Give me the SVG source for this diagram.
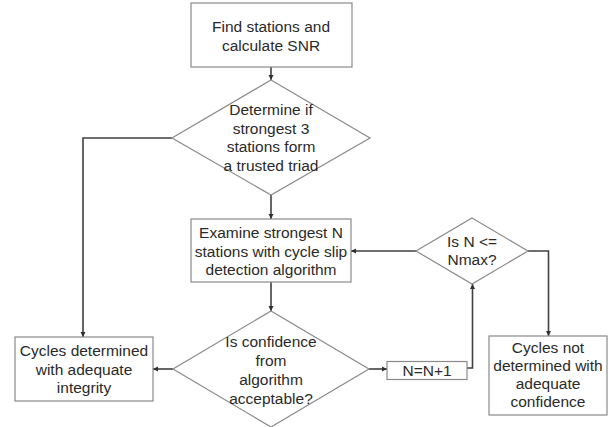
<svg xmlns="http://www.w3.org/2000/svg" width="611" height="427" viewBox="0 0 611 427">
<style>
.n{fill:#fff;stroke:#8a8a8a;stroke-width:1.2}
.t{font-family:"Liberation Sans",Arial,sans-serif;font-size:15.5px;fill:#2a2a2a;text-anchor:middle}
.c{fill:none;stroke:#404040;stroke-width:1.6;marker-end:url(#a)}
.l{fill:none;stroke:#404040;stroke-width:1.6}
</style>
<defs>
<marker id="a" markerWidth="6" markerHeight="6" refX="5" refY="3" orient="auto" markerUnits="userSpaceOnUse">
<path d="M0,0.5 L5,3 L0,5.5 Z" fill="#303030"/>
</marker>
</defs>
<rect width="611" height="427" fill="#fff"/>
<g id="connectors">
<path class="c" d="M271,67 V80"/>
<path class="c" d="M172,138 H83 V337"/>
<path class="c" d="M271,195 V219"/>
<path class="c" d="M271,282 V311"/>
<path class="c" d="M173,369 H153"/>
<path class="c" d="M369,369 H387"/>
<path class="c" d="M467,368 H472.5 V284"/>
<path class="c" d="M416,251 H351"/>
<path class="c" d="M528,251 H548.5 V336"/>
</g>
<g id="find">
<rect class="n" x="191" y="3" width="161" height="64"/>
<text class="t" x="271" y="32">Find stations and</text>
<text class="t" x="271" y="51">calculate SNR</text>
</g>
<g id="triad">
<polygon class="n" points="271,80 370,138 271,195 172,138"/>
<text class="t" x="271" y="114.5">Determine if</text>
<text class="t" x="271" y="133.5">strongest 3</text>
<text class="t" x="271" y="152">stations form</text>
<text class="t" x="271" y="171">a trusted triad</text>
</g>
<g id="examine">
<rect class="n" x="191" y="219" width="160" height="63"/>
<text class="t" x="271" y="238">Examine strongest N</text>
<text class="t" x="271" y="256.5">stations with cycle slip</text>
<text class="t" x="271" y="275">detection algorithm</text>
</g>
<g id="confidence">
<polygon class="n" points="271,311 369,369 271,427 173,369"/>
<text class="t" x="271" y="346.5">Is confidence</text>
<text class="t" x="271" y="365.5">from</text>
<text class="t" x="271" y="384.5">algorithm</text>
<text class="t" x="271" y="403.5">acceptable?</text>
</g>
<g id="determined">
<rect class="n" x="15" y="337" width="138" height="64"/>
<text class="t" x="84" y="356">Cycles determined</text>
<text class="t" x="84" y="374.5">with adequate</text>
<text class="t" x="84" y="393">integrity</text>
</g>
<g id="increment">
<rect class="n" x="387" y="361.5" width="80" height="18"/>
<text class="t" x="427" y="375.5">N=N+1</text>
</g>
<g id="nmax">
<polygon class="n" points="472,218 528,251 472,284 416,251"/>
<text class="t" x="472" y="246.5">Is N &lt;=</text>
<text class="t" x="472" y="265">Nmax?</text>
</g>
<g id="notdetermined">
<rect class="n" x="489" y="336" width="118" height="79"/>
<text class="t" x="548" y="353">Cycles not</text>
<text class="t" x="548" y="371">determined with</text>
<text class="t" x="548" y="389">adequate</text>
<text class="t" x="548" y="406.5">confidence</text>
</g>
</svg>
